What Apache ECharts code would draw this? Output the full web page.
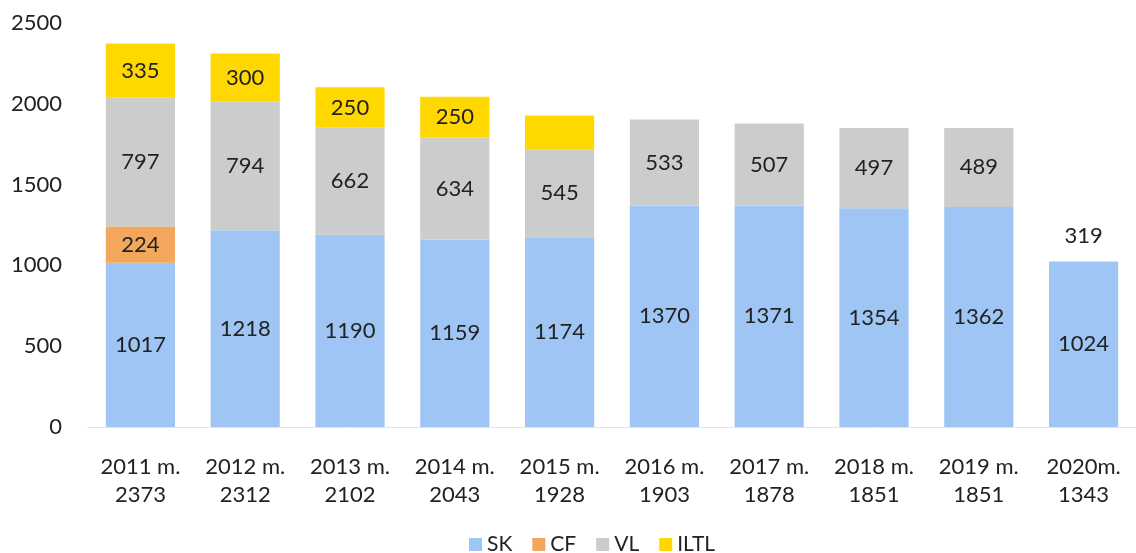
<!DOCTYPE html>
<html>
<head>
<meta charset="utf-8">
<script src="https://cdn.jsdelivr.net/npm/echarts@6/dist/echarts.min.js"></script>
<style>
  html, body { margin: 0; padding: 0; background: #ffffff; }
  #chart { width: 1136px; height: 553px; }
</style>
</head>
<body>
<div id="chart"></div>
<script>
// Years and totals shown under each bar
const years = ['2011 m.', '2012 m.', '2013 m.', '2014 m.', '2015 m.', '2016 m.', '2017 m.', '2018 m.', '2019 m.', '2020m.'];
const totals = [2373, 2312, 2102, 2043, 1928, 1903, 1878, 1851, 1851, 1343];

// Stacked components
const SK   = [1017, 1218, 1190, 1159, 1174, 1370, 1371, 1354, 1362, 1024];
const CF   = [224, null, null, null, null, null, null, null, null, null];
const VL   = [797, 794, 662, 634, 545, 533, 507, 497, 489, 319];
const ILTL = [335, 300, 250, 250, 209, null, null, null, null, null];

// Segments whose value is printed
const ILTL_LABELED = [true, true, true, true, false, false, false, false, false, false];

const FONT = 'Lato, "Open Sans", sans-serif';
const TEXT = '#222222';

const categories = years.map((y, i) => y + '\n' + totals[i]);

const labelBase = {
  show: true,
  position: 'inside',
  color: TEXT,
  fontFamily: FONT,
  fontSize: 22
};

function series(name, data, color, extra) {
  return Object.assign({
    name: name,
    type: 'bar',
    stack: 'total',
    barCategoryGap: '34%',
    itemStyle: { color: color },
    label: labelBase,
    emphasis: { disabled: true },
    data: data
  }, extra || {});
}

const chart = echarts.init(document.getElementById('chart'));
chart.setOption({
  animation: false,
  backgroundColor: '#ffffff',
  grid: { left: 88, right: -12, top: 23, bottom: 126, containLabel: false },
  legend: {
    top: 534,
    left: 469,
    padding: 0,
    itemWidth: 13,
    itemHeight: 13,
    itemGap: 20,
    icon: 'rect',
    textStyle: { color: TEXT, fontFamily: FONT, fontSize: 21 },
    data: ['SK', 'CF', 'VL', 'ILTL']
  },
  xAxis: {
    type: 'category',
    data: categories,
    axisLine: { show: true, lineStyle: { color: '#e4e4e4', width: 1 } },
    axisTick: { show: false },
    axisLabel: {
      color: TEXT,
      fontFamily: FONT,
      fontSize: 22,
      lineHeight: 28,
      margin: 26,
      interval: 0
    }
  },
  yAxis: {
    type: 'value',
    min: 0,
    max: 2500,
    interval: 500,
    axisLine: { show: false },
    axisTick: { show: false },
    splitLine: { show: false },
    axisLabel: {
      color: TEXT,
      fontFamily: FONT,
      fontSize: 22,
      margin: 26,
      formatter: v => String(v)
    }
  },
  series: [
    series('SK', SK, '#9ec5f3'),
    series('CF', CF, '#f2a75c'),
    series('VL', VL.map((v, i) => i === VL.length - 1
      ? { value: v, itemStyle: { color: 'rgba(0,0,0,0)' } }
      : v), '#cbcdcd'),
    series('ILTL', ILTL.map((v, i) => ({
      value: v,
      label: { show: ILTL_LABELED[i] }
    })), '#ffd800')
  ]
});
</script>
</body>
</html>
